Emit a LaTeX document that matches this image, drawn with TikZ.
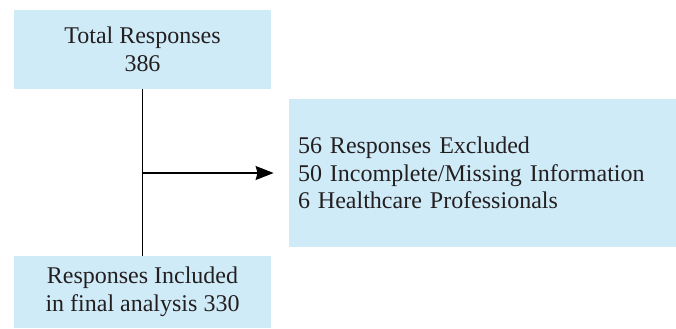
\documentclass[tikz,border=0pt]{standalone}
\usepackage{fontspec}
\setmainfont{Liberation Serif}
\usepackage{xcolor}
\definecolor{boxBack}{HTML}{D0EBF8}
\definecolor{inkText}{HTML}{231F20}
\usetikzlibrary{arrows.meta, positioning, calc}
\tikzset{
    flowbox/.style={rectangle, fill=boxBack, inner sep=0pt, align=center,
                    text=inkText, font=\fontsize{12}{13.75}\selectfont},
    flowline/.style={-, line width=0.7pt},
    flowarrow/.style={-{Stealth[length=9pt, width=7pt, inset=1pt]},
                      line width=0.7pt, shorten >=7.5pt},
}

\begin{document}
\begin{tikzpicture}[
    x=0.5pt, y=-0.5pt,
]
\useasboundingbox (0,0) rectangle (676,328);

% --- left column: totals ---
\node[flowbox, minimum width=128.5pt, minimum height=39.5pt] (total)
    at (142.5, 49.5) {Total Responses\\386};
\node[flowbox, minimum width=128.5pt, minimum height=36pt] (included)
    at (142.5, 292) {Responses Included\\in final analysis 330};

% --- right: excluded responses ---
\node[flowbox, align=left, inner xsep=4.5pt, text width=184.5pt,
      minimum height=74pt] (excluded) at (482.5, 173)
    {56 Responses Excluded\\50 Incomplete/Missing Information\\6 Healthcare Professionals};

% --- connectors ---
\coordinate (split) at (total.south |- excluded.west);
\draw[flowline] (total) -- (included);
\draw[flowarrow] (split) -- (excluded);
\end{tikzpicture}
\end{document}
